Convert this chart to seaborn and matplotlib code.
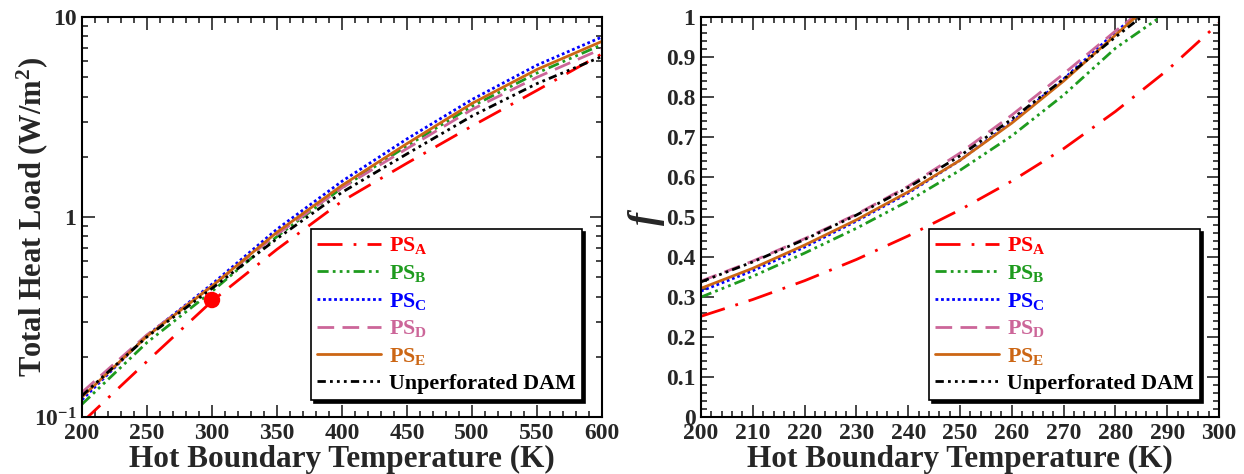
import numpy as np
import matplotlib
matplotlib.use("Agg")
import matplotlib.pyplot as plt
import seaborn as sns
from matplotlib.ticker import MultipleLocator, LogLocator, NullFormatter

# left panel: total heat load (W/m^2) vs hot boundary temperature (K)
temp_load = [200, 250, 300, 350, 400, 450, 500, 550, 600]
load_ps_a = [0.094, 0.19, 0.38, 0.69, 1.2, 1.86, 2.85, 4.3, 6.55]
load_ps_b = [0.116, 0.236, 0.425, 0.80, 1.40, 2.27, 3.58, 5.25, 7.28]
load_ps_c = [0.122, 0.256, 0.462, 0.87, 1.51, 2.46, 3.87, 5.75, 7.95]
load_ps_d = [0.133, 0.258, 0.452, 0.82, 1.40, 2.2, 3.45, 5.0, 6.94]
load_ps_e = [0.126, 0.254, 0.452, 0.84, 1.44, 2.33, 3.7, 5.47, 7.56]
load_dam = [0.128, 0.252, 0.44, 0.78, 1.33, 2.07, 3.2, 4.65, 6.35]
measured_temp = [300]
measured_load = [0.385]

# right panel: f vs hot boundary temperature (K)
temp_frac = [200, 210, 220, 230, 240, 250, 260, 270, 280, 290, 300]
frac_ps_a = [0.252, 0.294, 0.341, 0.394, 0.453, 0.518, 0.59, 0.671, 0.764, 0.867, 0.985]
frac_ps_b = [0.30, 0.352, 0.41, 0.472, 0.54, 0.617, 0.703, 0.805, 0.922, 1.012, np.nan]
frac_ps_c = [0.315, 0.366, 0.425, 0.49, 0.56, 0.642, 0.738, 0.845, 0.962, 1.07, np.nan]
frac_ps_d = [0.34, 0.39, 0.446, 0.507, 0.577, 0.66, 0.755, 0.858, 0.965, 1.065, np.nan]
frac_ps_e = [0.322, 0.372, 0.43, 0.493, 0.563, 0.642, 0.735, 0.84, 0.955, 1.07, np.nan]
frac_dam = [0.338, 0.388, 0.444, 0.505, 0.574, 0.653, 0.745, 0.845, 0.95, 1.05, np.nan]

labels = [r"PS$_{\rm A}$", r"PS$_{\rm B}$", r"PS$_{\rm C}$", r"PS$_{\rm D}$",
          r"PS$_{\rm E}$", "Unperforated DAM"]
colors = ["#FF0000", "#1E9B1E", "#0000FF", "#CC6699", "#CC6614", "#000000"]
styles = [(0, (9, 4, 1, 4)),
          (0, (4, 1.5, 1, 1.5, 1, 1.5, 1, 1.5)),
          (0, (1, 1)),
          (0, (6, 3)),
          "-",
          (0, (3, 1.5, 1, 1.5, 1, 1.5, 1, 1.5))]

sns.set_style("ticks")
plt.rcParams["font.family"] = ["Liberation Serif", "DejaVu Serif"]
plt.rcParams["font.weight"] = "bold"
plt.rcParams["mathtext.fontset"] = "custom"
plt.rcParams["mathtext.rm"] = "Liberation Serif:bold"
plt.rcParams["mathtext.bf"] = "Liberation Serif:bold"
plt.rcParams["mathtext.it"] = "Liberation Serif:bold:italic"

fig = plt.figure(figsize=(12.44, 4.74), dpi=100)
ax1 = fig.add_axes([0.0659, 0.12, 0.418, 0.844])
ax2 = fig.add_axes([0.5635, 0.12, 0.4164, 0.844])


def style_axes(ax):
    for s in ax.spines.values():
        s.set_linewidth(1.5)
        s.set_color("black")
    ax.tick_params(which="both", direction="in", top=True, right=True,
                   labelsize=17, width=1.2, pad=4)
    ax.tick_params(which="major", length=9)
    ax.tick_params(which="minor", length=4.5)
    for t in ax.get_xticklabels() + ax.get_yticklabels():
        t.set_fontweight("bold")


def add_legend(ax):
    leg = ax.legend(loc="lower left", bbox_to_anchor=(0.44, 0.042),
                    fontsize=15.8, frameon=True, fancybox=False,
                    shadow={"facecolor": "black", "edgecolor": "black", "alpha": 1},
                    edgecolor="black", framealpha=1, handlelength=2.9,
                    handletextpad=0.35, labelspacing=0.3, borderpad=0.3,
                    borderaxespad=0)
    leg.get_frame().set_linewidth(1.2)
    for txt, c in zip(leg.get_texts(), colors):
        txt.set_color(c)
        txt.set_fontweight("bold")
    return leg


# ---- left panel ----
load_series = [load_ps_a, load_ps_b, load_ps_c, load_ps_d, load_ps_e, load_dam]
for vals, lab, c, ls in zip(load_series, labels, colors, styles):
    sns.lineplot(x=temp_load, y=vals, ax=ax1, color=c, linewidth=2,
                 linestyle=ls, label=lab)
sns.scatterplot(x=measured_temp, y=measured_load, ax=ax1, color="#FF0000",
                s=140, edgecolor="none", legend=False, zorder=5)

ax1.set_yscale("log")
ax1.set_xlim(200, 600)
ax1.set_ylim(0.1, 10)
ax1.xaxis.set_major_locator(MultipleLocator(50))
ax1.xaxis.set_minor_locator(MultipleLocator(10))
ax1.set_yticks([0.1, 1, 10], labels=[r"10$^{-1}$", "1", "10"])
ax1.yaxis.set_minor_locator(LogLocator(base=10, subs=np.arange(2, 10)))
ax1.yaxis.set_minor_formatter(NullFormatter())
ax1.set_xlabel("Hot Boundary Temperature (K)", fontsize=22.5, fontweight="bold",
               labelpad=1)
ax1.set_ylabel(r"Total Heat Load (W/m$^2$)", fontsize=22, fontweight="bold")
ax1.yaxis.set_label_coords(-0.062, 0.5)
style_axes(ax1)
add_legend(ax1)

# ---- right panel ----
frac_series = [frac_ps_a, frac_ps_b, frac_ps_c, frac_ps_d, frac_ps_e, frac_dam]
for vals, lab, c, ls in zip(frac_series, labels, colors, styles):
    sns.lineplot(x=temp_frac, y=vals, ax=ax2, color=c, linewidth=2,
                 linestyle=ls, label=lab)

ax2.set_xlim(200, 300)
ax2.set_ylim(0, 1)
ax2.xaxis.set_major_locator(MultipleLocator(10))
ax2.xaxis.set_minor_locator(MultipleLocator(2))
ax2.yaxis.set_major_locator(MultipleLocator(0.1))
ax2.yaxis.set_minor_locator(MultipleLocator(0.02))
ax2.set_yticks(np.round(np.arange(0, 1.01, 0.1), 1),
               labels=["0"] + [f"{v:.1f}" for v in np.arange(0.1, 0.95, 0.1)] + ["1"])
ax2.set_xlabel("Hot Boundary Temperature (K)", fontsize=22.5, fontweight="bold",
               labelpad=1)
ax2.set_ylabel(r"$f$", fontsize=28)
ax2.yaxis.set_label_coords(-0.065, 0.5)
style_axes(ax2)
add_legend(ax2)

fig.savefig("out.png", dpi=100)
